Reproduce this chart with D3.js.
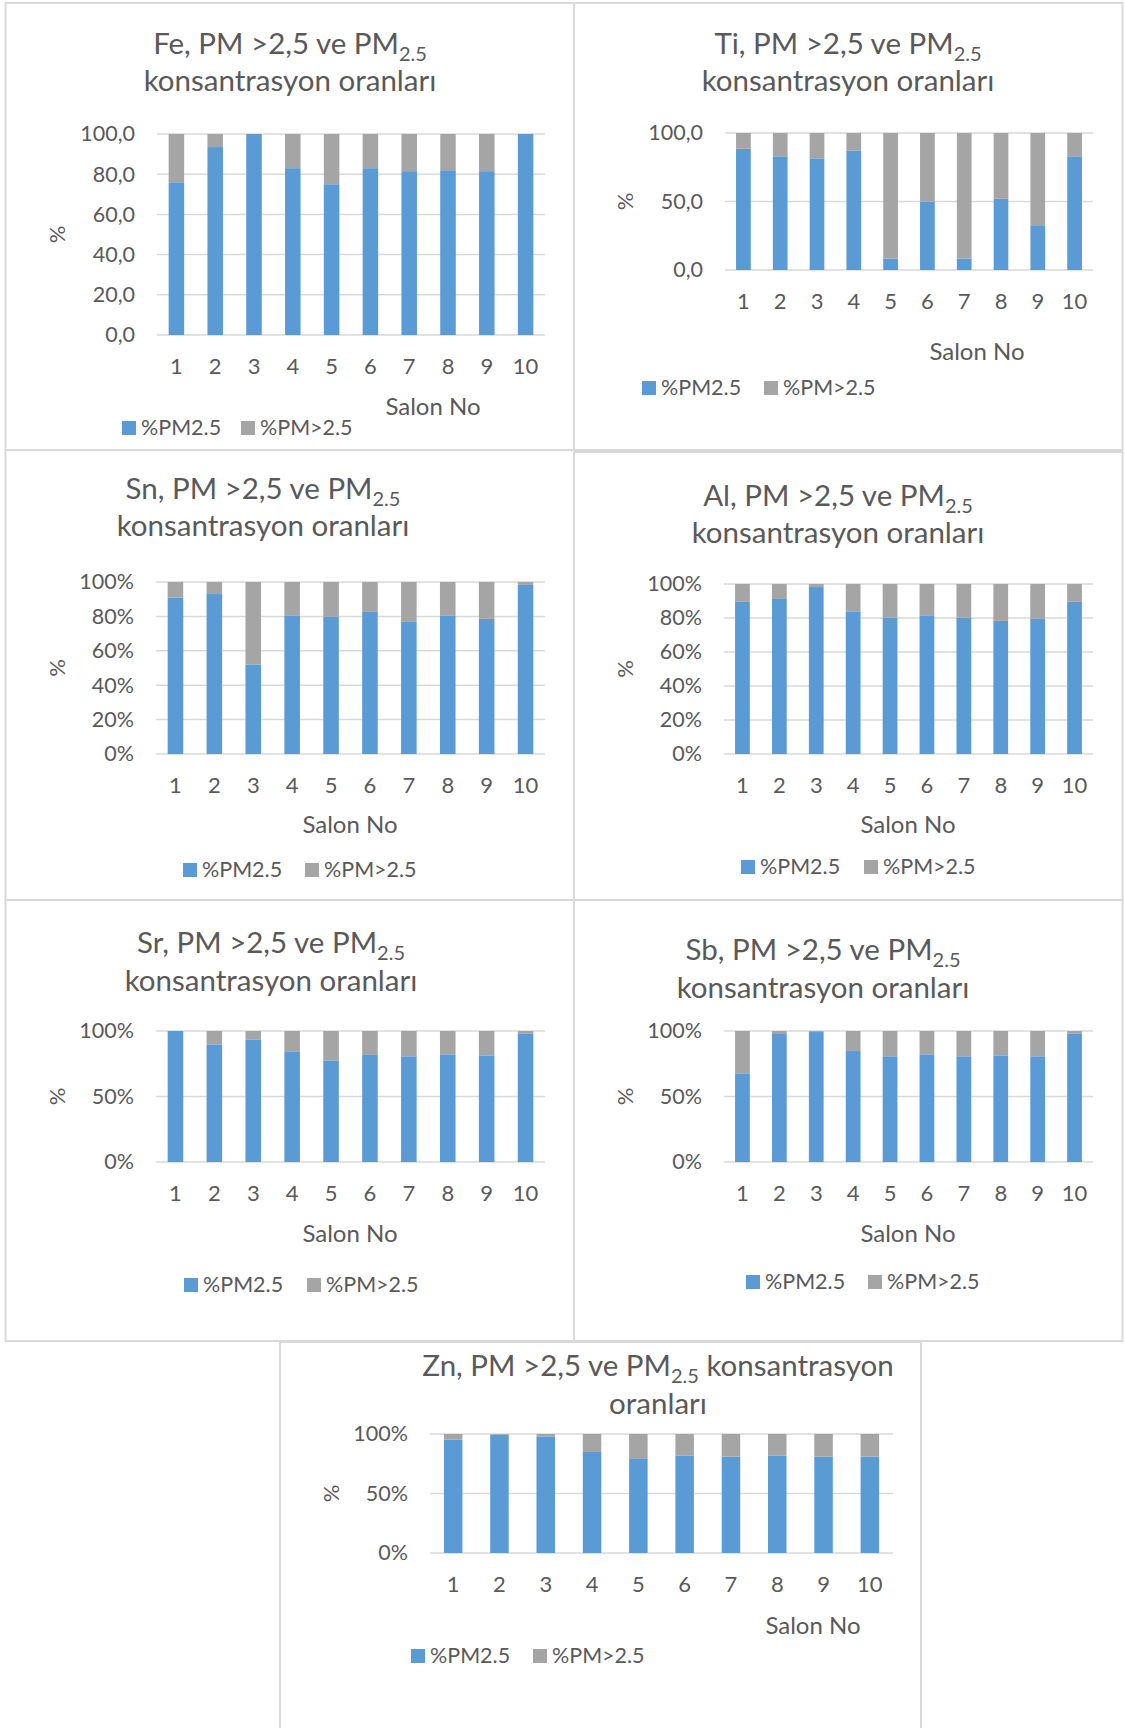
<!DOCTYPE html>
<html>
<head>
<meta charset="utf-8">
<script src="https://cdn.jsdelivr.net/npm/d3@7"></script>
<style>
  body { margin: 0; background: #fff; }
  svg { display: block; font-family: Lato, "Open Sans", sans-serif; }
</style>
</head>
<body>
<svg id="chart" width="1125" height="1728"></svg>
<script>
// salon numbers on the x axis
const salons = [1, 2, 3, 4, 5, 6, 7, 8, 9, 10];
const seriesNames = ["%PM2.5", "%PM>2.5"];

// share of each element in PM2.5 and PM>2.5
const fePM25 = [76, 93.5, 100, 83, 75, 83, 81.5, 82, 81.5, 100];
const fePM10 = [24, 6.5, 0, 17, 25, 17, 18.5, 18, 18.5, 0];
const tiPM25 = [88.5, 83, 81.5, 87.3, 8.3, 50, 8.3, 52, 32.7, 83];
const tiPM10 = [11.5, 17, 18.5, 12.7, 91.7, 50, 91.7, 48, 67.3, 17];
const snPM25 = [91, 93, 52, 80.3, 79.7, 82.6, 76.8, 80.3, 78.6, 98.3];
const snPM10 = [9, 7, 48, 19.7, 20.3, 17.4, 23.2, 19.7, 21.4, 1.7];
const alPM25 = [89.5, 91.2, 98.2, 83.6, 80.1, 81.6, 80.1, 78.3, 79.5, 89.5];
const alPM10 = [10.5, 8.8, 1.8, 16.4, 19.9, 18.4, 19.9, 21.7, 20.5, 10.5];
const srPM25 = [100, 89.8, 93.6, 84.5, 77.6, 81.7, 80.7, 82.2, 81.4, 98.2];
const srPM10 = [0, 10.2, 6.4, 15.5, 22.4, 18.3, 19.3, 17.8, 18.6, 1.8];
const sbPM25 = [67.7, 97.7, 99.2, 84.7, 80.7, 82.2, 80.7, 81.4, 80.7, 98.2];
const sbPM10 = [32.3, 2.3, 0.8, 15.3, 19.3, 17.8, 19.3, 18.6, 19.3, 1.8];
const znPM25 = [95.3, 99.4, 98, 84.9, 79, 81.8, 81, 81.8, 81, 81];
const znPM10 = [4.7, 0.6, 2, 15.1, 21, 18.2, 19, 18.2, 19, 19];

// y tick labels
const ticksFe = ["0,0", "20,0", "40,0", "60,0", "80,0", "100,0"];
const ticksTi = ["0,0", "50,0", "100,0"];
const ticksPct20 = ["0%", "20%", "40%", "60%", "80%", "100%"];
const ticksPct50 = ["0%", "50%", "100%"];

const colors = ["#5b9bd5", "#a5a5a5"];
const textColor = "#595959";
const gridColor = "#d9d9d9";

// panel layout: frame, plot area, title lines, axis title and legend positions
const panels = [
  { el: "Fe", fine: fePM25, coarse: fePM10, ticks: ticksFe,
    frame: [5.5, 3, 574, 450], plot: [157, 134, 545, 335],
    title: [["Fe, PM >2,5 ve PM", "2.5", ""], ["konsantrasyon oranları"]], titleX: 290, titleY: [54, 91],
    pctX: 57, salonX: 433, salonY: 415, legendX: [122, 241], legendY: 435 },
  { el: "Ti", fine: tiPM25, coarse: tiPM10, ticks: ticksTi,
    frame: [574, 3, 1122.5, 450], plot: [725, 133, 1093, 270],
    title: [["Ti, PM >2,5 ve PM", "2.5", ""], ["konsantrasyon oranları"]], titleX: 848, titleY: [54, 91],
    pctX: 625, salonX: 977, salonY: 360, legendX: [642, 764], legendY: 395 },
  { el: "Sn", fine: snPM25, coarse: snPM10, ticks: ticksPct20,
    frame: [5.5, 450, 574, 900], plot: [156, 582, 545, 754],
    title: [["Sn, PM >2,5 ve PM", "2.5", ""], ["konsantrasyon oranları"]], titleX: 263, titleY: [499, 536],
    pctX: 57, salonX: 350, salonY: 833, legendX: [183, 305], legendY: 877 },
  { el: "Al", fine: alPM25, coarse: alPM10, ticks: ticksPct20,
    frame: [574, 452, 1122.5, 900], plot: [724, 584, 1093, 754],
    title: [["Al, PM >2,5 ve PM", "2.5", ""], ["konsantrasyon oranları"]], titleX: 838, titleY: [506, 543],
    pctX: 625, salonX: 908, salonY: 833, legendX: [741, 864], legendY: 874 },
  { el: "Sr", fine: srPM25, coarse: srPM10, ticks: ticksPct50,
    frame: [5.5, 900, 574, 1341], plot: [156, 1031, 545, 1162],
    title: [["Sr, PM >2,5 ve PM", "2.5", ""], ["konsantrasyon oranları"]], titleX: 271, titleY: [953, 991],
    pctX: 57, salonX: 350, salonY: 1242, legendX: [184, 307], legendY: 1292 },
  { el: "Sb", fine: sbPM25, coarse: sbPM10, ticks: ticksPct50,
    frame: [574, 900, 1122.5, 1341], plot: [724, 1031, 1093, 1162],
    title: [["Sb, PM >2,5 ve PM", "2.5", ""], ["konsantrasyon oranları"]], titleX: 823, titleY: [960, 998],
    pctX: 625, salonX: 908, salonY: 1242, legendX: [746, 868], legendY: 1289 },
  { el: "Zn", fine: znPM25, coarse: znPM10, ticks: ticksPct50,
    frame: [280, 1342, 921, 1740], plot: [430, 1434, 893, 1553],
    title: [["Zn, PM >2,5 ve PM", "2.5", " konsantrasyon"], ["oranları"]], titleX: 658, titleY: [1376, 1414],
    pctX: 331, salonX: 813, salonY: 1634, legendX: [411, 533], legendY: 1663 }
];

const svg = d3.select("#chart");

panels.forEach(p => {
  const g = svg.append("g").attr("class", "panel");
  const [fx0, fy0, fx1, fy1] = p.frame;
  const [left, top, right, bottom] = p.plot;

  // chart frame
  g.append("rect")
    .attr("x", fx0).attr("y", fy0)
    .attr("width", fx1 - fx0).attr("height", fy1 - fy0)
    .attr("fill", "none")
    .attr("stroke", gridColor)
    .attr("stroke-width", 2);

  // title, two lines, with subscript
  p.title.forEach((line, i) => {
    const t = g.append("text")
      .attr("x", p.titleX)
      .attr("y", p.titleY[i])
      .attr("text-anchor", "middle")
      .attr("fill", textColor)
      .style("font-size", "29.5px");
    t.append("tspan").text(line[0]);
    if (line.length > 1) {
      t.append("tspan").attr("dy", 7).style("font-size", "20px").text(line[1]);
      t.append("tspan").attr("dy", -7).text(line[2]);
    }
  });

  const x = d3.scaleBand()
    .domain(salons)
    .range([left, right])
    .paddingInner(0.6)
    .paddingOuter(0.3);

  const tickVals = p.ticks.map(d => parseFloat(d));
  const y = d3.scaleLinear()
    .domain([0, 100])
    .range([bottom, top]);

  // gridlines
  g.append("g")
    .selectAll("line")
    .data(tickVals)
    .join("line")
    .attr("x1", left).attr("x2", right)
    .attr("y1", d => y(d)).attr("y2", d => y(d))
    .attr("stroke", gridColor)
    .attr("stroke-width", 1.5);

  // stacked bars
  const rows = salons.map((s, i) => ({ salon: s, fine: p.fine[i], coarse: p.coarse[i] }));
  const stack = d3.stack().keys(["fine", "coarse"])(rows);

  g.append("g")
    .selectAll("g")
    .data(stack)
    .join("g")
    .attr("fill", (d, i) => colors[i])
    .selectAll("rect")
    .data(d => d)
    .join("rect")
    .attr("x", d => x(d.data.salon))
    .attr("width", x.bandwidth())
    .attr("y", d => y(d[1]))
    .attr("height", d => Math.max(0, y(d[0]) - y(d[1])));

  // y axis labels
  const yAxis = g.append("g")
    .attr("transform", `translate(${left},0)`)
    .call(d3.axisLeft(y).tickValues(tickVals).tickFormat((d, i) => p.ticks[i]).tickSize(0).tickPadding(22));
  yAxis.select(".domain").remove();
  yAxis.selectAll("text").attr("fill", textColor).style("font-size", "21.5px").style("font-family", "Lato");

  // x axis labels
  const xAxis = g.append("g")
    .attr("transform", `translate(0,${bottom})`)
    .call(d3.axisBottom(x).tickSize(0).tickPadding(23));
  xAxis.select(".domain").remove();
  xAxis.selectAll("text").attr("fill", textColor).style("font-size", "22px").style("font-family", "Lato");

  // axis titles
  g.append("text")
    .attr("transform", `translate(${p.pctX + 8},${(top + bottom) / 2}) rotate(-90)`)
    .attr("text-anchor", "middle")
    .attr("fill", textColor)
    .style("font-size", "22px")
    .text("%");

  g.append("text")
    .attr("x", p.salonX)
    .attr("y", p.salonY)
    .attr("text-anchor", "middle")
    .attr("fill", textColor)
    .style("font-size", "24px")
    .text("Salon No");

  // legend
  seriesNames.forEach((name, i) => {
    g.append("rect")
      .attr("x", p.legendX[i])
      .attr("y", p.legendY - 14)
      .attr("width", 14).attr("height", 14)
      .attr("fill", colors[i]);
    g.append("text")
      .attr("x", p.legendX[i] + 19)
      .attr("y", p.legendY)
      .attr("fill", textColor)
      .style("font-size", "21.5px")
      .text(name);
  });
});
</script>
</body>
</html>
